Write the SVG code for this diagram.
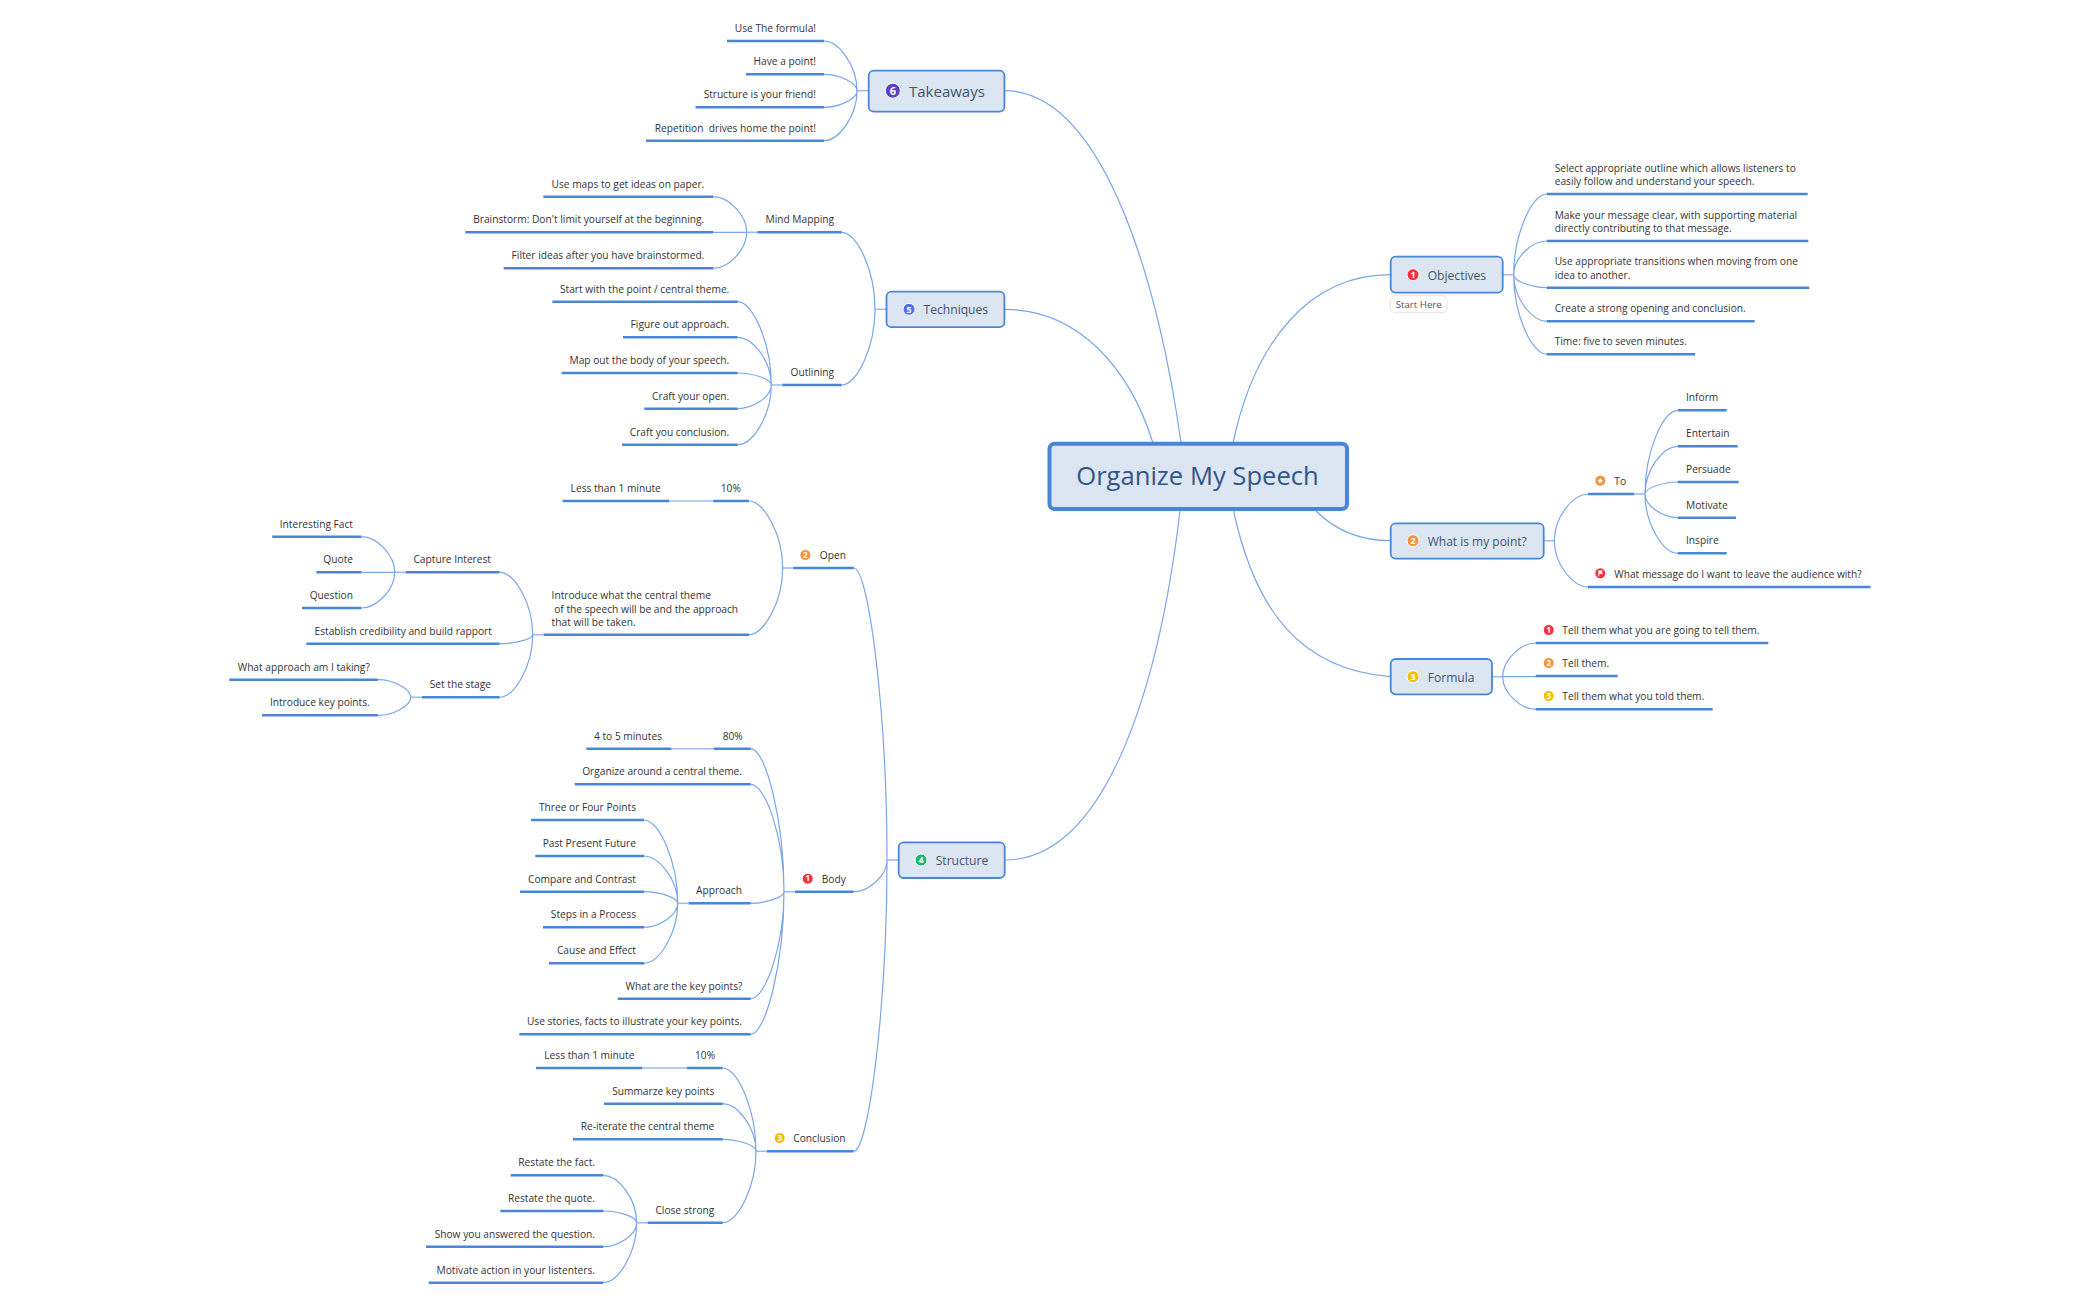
<svg xmlns="http://www.w3.org/2000/svg" width="2100" height="1300" viewBox="0 0 2100 1300">
<style>
text{font-family:"Open Sans","Noto Sans","Liberation Sans",sans-serif;font-size:10.2px;fill:#333;transform:translateY(.7px)}
.e{text-anchor:end}
.c{fill:none;stroke:#7aa6e6;stroke-width:1.2}
.s{fill:none;stroke:#9dbcec;stroke-width:1.6}
.u{fill:none;stroke:#4a86d8;stroke-width:2.5}
.n{fill:#dce6f2;stroke:#4a86d8;stroke-width:1.8}
.t{font-size:12.1px;fill:#44546a}
.i{stroke:#fff;stroke-width:1}
.d{font-size:9px;font-weight:700;fill:#fff;text-anchor:middle}
.ds{font-size:8px}
</style>
<rect width="2100" height="1300" fill="#fff"/>
<g id="connectors">
<path class="c" d="M1004.4 90.7C1105 90.7 1160 290 1181 443"/>
<path class="c" d="M1004.4 309.3C1080 309.3 1130 370 1153 443"/>
<path class="c" d="M1390.7 274.7C1310 274.7 1255 340 1233 443"/>
<path class="c" d="M1316 511C1335 530 1360 540.7 1391 540.7"/>
<path class="c" d="M1390.7 676.7C1300 670 1255 610 1233.6 511"/>
<path class="c" d="M1004.7 860C1108 860 1160 680 1180 511"/>
<path class="s" d="M857 90.7H868.7"/>
<path class="c" d="M857 90.7C857 66 839 41 824 41M857 90.7C857 82.5 839 74.3 824 74.3M857 90.7C857 99 839 107.3 824 107.3M857 90.7C857 115.7 839 140.7 824 140.7"/>
<path class="s" d="M875 309.3H886.5"/>
<path class="c" d="M875 309.3C875 270.8 857 232.3 841.7 232.3M875 309.3C875 347 857 385 841.7 385"/>
<path class="s" d="M746.7 232.3H757.3"/>
<path class="c" d="M746.7 232.3C746.7 214.5 728 196.7 713.3 196.7M746.7 232.3H713.3M746.7 232.3C746.7 250.3 728 268.3 713.3 268.3"/>
<path class="s" d="M771.3 385H782.3"/>
<path class="c" d="M771.3 385C771.3 343.4 752.8 301.7 737.7 301.7M771.3 385C771.3 361 752.8 337.3 737.7 337.3M771.3 385C771.3 379 752.8 373 737.7 373M771.3 385C771.3 397 752.8 408.7 737.7 408.7M771.3 385C771.3 415 752.8 444.7 737.7 444.7"/>
<path class="s" d="M1502.7 274.7H1513.7"/>
<path class="c" d="M1513.7 274.7C1513.7 234.3 1531.9 194 1546.7 194M1513.7 274.7C1513.7 257.8 1531.9 241 1546.7 241M1513.7 274.7C1513.7 281 1531.9 287.7 1546.7 287.7M1513.7 274.7C1513.7 298 1531.9 321.3 1546.7 321.3M1513.7 274.7C1513.7 314.5 1531.9 354.3 1546.7 354.3"/>
<path class="s" d="M1543.7 540.7H1554.3"/>
<path class="c" d="M1554.3 540.7C1554.3 517.3 1572.8 494 1588 494M1554.3 540.7C1554.3 563.8 1572.8 587 1588 587"/>
<path class="s" d="M1634 494H1645"/>
<path class="c" d="M1645 494C1645 452 1663 410.3 1677.7 410.3M1645 494C1645 470 1663 446.3 1677.7 446.3M1645 494C1645 488 1663 482 1677.7 482M1645 494C1645 505.8 1663 517.7 1677.7 517.7M1645 494C1645 523.6 1663 553.3 1677.7 553.3"/>
<path class="s" d="M1492 676.7H1502.7"/>
<path class="c" d="M1502.7 676.7C1502.7 660 1520.8 643 1535.7 643M1502.7 676.7H1535.7M1502.7 676.7C1502.7 693 1520.8 709.3 1535.7 709.3"/>
<path class="s" d="M887 860H898.7"/>
<path class="c" d="M887 860C887 714 868.7 568 853.8 568M887 860C887 875.8 868.7 891.7 853.7 891.7M887 860C887 1005.6 868.7 1151.3 853.7 1151.3"/>
<path class="s" d="M782.7 568H793.2"/>
<path class="c" d="M782.7 568C782.7 534.5 764 501 749 501M782.7 568C782.7 601.3 764 634.7 749 634.7"/>
<path class="s" d="M669 501H713.3"/>
<path class="s" d="M532.7 634.7H543.7"/>
<path class="c" d="M532.7 634.7C532.7 603.5 514.4 572.3 499.5 572.3M532.7 634.7C532.7 639.2 514.4 643.7 499.5 643.7M532.7 634.7C532.7 666 514.4 697.3 499.5 697.3"/>
<path class="s" d="M394.7 572.3H405.6"/>
<path class="c" d="M394.7 572.3C394.7 554.5 376.4 536.7 361.4 536.7M394.7 572.3H361.4M394.7 572.3C394.7 590 376.4 608 361.4 608"/>
<path class="s" d="M410.7 697.3H422"/>
<path class="c" d="M410.7 697.3C410.7 688.5 392.6 679.7 377.8 679.7M410.7 697.3C410.7 706.3 392.6 715.3 377.8 715.3"/>
<path class="s" d="M784 891.7H795"/>
<path class="c" d="M784 891.7C784 820 765.7 748.7 750.7 748.7M784 891.7C784 838 765.7 784.3 750.7 784.3M784 891.7C784 897.5 765.7 903.3 750.7 903.3M784 891.7C784 945 765.7 998.7 750.7 998.7M784 891.7C784 963 765.7 1034.3 750.7 1034.3"/>
<path class="s" d="M671.3 748.7H714"/>
<path class="s" d="M677.7 903.3H688.7"/>
<path class="c" d="M677.7 903.3C677.7 861.7 659.2 820 644 820M677.7 903.3C677.7 879.7 659.2 856 644 856M677.7 903.3C677.7 897.5 659.2 891.7 644 891.7M677.7 903.3C677.7 915.3 659.2 927.3 644 927.3M677.7 903.3C677.7 933.3 659.2 963.3 644 963.3"/>
<path class="s" d="M756 1151.3H767"/>
<path class="c" d="M756 1151.3C756 1109.7 737.7 1068 722.7 1068M756 1151.3C756 1127.5 737.7 1103.7 722.7 1103.7M756 1151.3C756 1145.3 737.7 1139.3 722.7 1139.3M756 1151.3C756 1187 737.7 1222.7 722.7 1222.7"/>
<path class="s" d="M642.3 1068H687"/>
<path class="s" d="M636.7 1222.7H647.7"/>
<path class="c" d="M636.7 1222.7C636.7 1199 618.3 1175.3 603.3 1175.3M636.7 1222.7C636.7 1216.9 618.3 1211 603.3 1211M636.7 1222.7C636.7 1234.7 618.3 1246.7 603.3 1246.7M636.7 1222.7C636.7 1252.7 618.3 1282.7 603.3 1282.7"/>
</g>
<g id="central"><rect x="1049.5" y="443.7" width="297.5" height="65.3" rx="5" fill="#dce6f2" stroke="#4a86d8" stroke-width="4"/><text x="1197.5" y="484" text-anchor="middle" style="font-size:25.6px;fill:#34558b">Organize My Speech</text></g>

<g id="takeaways"><rect class="n" x="868.7" y="70.7" width="135.7" height="41" rx="5"/><circle class="i" cx="892.8" cy="90.7" r="7.5" fill="#5e3fc9"/><text class="d" x="892.8" y="94.2" style="font-size:11px">6</text><text class="t" x="909" y="96" style="font-size:15px">Takeaways</text></g>
<g id="t1"><path class="u" d="M727 41H824"/><text class="e" x="816" y="31.5">Use The formula!</text></g>
<g id="t2"><path class="u" d="M746 74.3H824"/><text class="e" x="816" y="64.8">Have a point!</text></g>
<g id="t3"><path class="u" d="M695.5 107.3H824"/><text class="e" x="816" y="97.8">Structure is your friend!</text></g>
<g id="t4"><path class="u" d="M646 140.7H824"/><text class="e" x="816" y="131.2" xml:space="preserve">Repetition  drives home the point!</text></g>

<g id="techniques"><rect class="n" x="886.5" y="291.7" width="117.9" height="35.5" rx="5"/><circle class="i" cx="909" cy="309.3" r="6" fill="#4f6ef0"/><text class="d" x="909" y="312">5</text><text class="t" x="923.6" y="313.8">Techniques</text></g>
<g id="mind-mapping"><path class="u" d="M757.3 232.3H841.7"/><text class="e" x="834" y="222.8">Mind Mapping</text></g>
<g id="m1"><path class="u" d="M543.3 196.7H713.3"/><text class="e" x="704.3" y="187.2">Use maps to get ideas on paper.</text></g>
<g id="m2"><path class="u" d="M465.3 232.3H713.3"/><text class="e" x="704.3" y="222.8">Brainstorm: Don't limit yourself at the beginning.</text></g>
<g id="m3"><path class="u" d="M503.7 268.3H713.3"/><text class="e" x="704.3" y="258.8">Filter ideas after you have brainstormed.</text></g>
<g id="outlining"><path class="u" d="M782.3 385H841.7"/><text class="e" x="834" y="375.5">Outlining</text></g>
<g id="o1"><path class="u" d="M552.3 301.7H737.7"/><text class="e" x="729.3" y="292.2">Start with the point / central theme.</text></g>
<g id="o2"><path class="u" d="M623 337.3H737.7"/><text class="e" x="729.3" y="327.8">Figure out approach.</text></g>
<g id="o3"><path class="u" d="M561.7 373H737.7"/><text class="e" x="729.3" y="363.5">Map out the body of your speech.</text></g>
<g id="o4"><path class="u" d="M644.3 408.7H737.7"/><text class="e" x="729.3" y="399.2">Craft your open.</text></g>
<g id="o5"><path class="u" d="M622 444.7H737.7"/><text class="e" x="729.3" y="435.2">Craft you conclusion.</text></g>

<g id="objectives"><rect class="n" x="1390.7" y="256.7" width="112" height="36" rx="5"/><circle class="i" cx="1413" cy="274.7" r="6" fill="#f5333f"/><text class="d" x="1413" y="277.5">1</text><text class="t" x="1427.7" y="278.9">Objectives</text></g>
<g id="start-here"><rect x="1390.3" y="295.7" width="56.7" height="17" rx="5" fill="#fff" stroke="#e4e4e4"/><text x="1395.7" y="307.5" style="font-size:9.7px;fill:#555">Start Here</text></g>
<g id="ob1"><path class="u" d="M1546.7 194H1807.7"/><text x="1554.7" y="171">Select appropriate outline which allows listeners to</text><text x="1554.7" y="184.5">easily follow and understand your speech.</text></g>
<g id="ob2"><path class="u" d="M1546.7 241H1808.3"/><text x="1554.7" y="218">Make your message clear, with supporting material</text><text x="1554.7" y="231.5">directly contributing to that message.</text></g>
<g id="ob3"><path class="u" d="M1546.7 287.7H1809.3"/><text x="1554.7" y="264.7">Use appropriate transitions when moving from one</text><text x="1554.7" y="278.2">idea to another.</text></g>
<g id="ob4"><path class="u" d="M1546.7 321.3H1754.7"/><text x="1554.7" y="311.8">Create a strong opening and conclusion.</text></g>
<g id="ob5"><path class="u" d="M1546.7 354.3H1695"/><text x="1554.7" y="344.8">Time: five to seven minutes.</text></g>

<g id="point"><rect class="n" x="1390.7" y="523.3" width="153" height="35.4" rx="5"/><circle class="i" cx="1413" cy="540.7" r="6" fill="#f7923a"/><text class="d" x="1413" y="543.5">2</text><text class="t" x="1427.7" y="545" style="font-size:12px">What is my point?</text></g>
<g id="to"><path class="u" d="M1588 494H1634"/><circle class="i" cx="1600.3" cy="480.7" r="5.5" fill="#f7923a"/><polygon points="1600.3,477.6 1601.2,479.8 1603.3,479.9 1601.7,481.3 1602.2,483.5 1600.3,482.3 1598.4,483.5 1598.9,481.3 1597.3,479.9 1599.4,479.8" fill="#fff"/><text x="1614.3" y="484.5">To</text></g>
<g id="inform"><path class="u" d="M1677.7 410.3H1726.7"/><text x="1686" y="400.8">Inform</text></g>
<g id="entertain"><path class="u" d="M1677.7 446.3H1737.7"/><text x="1686" y="436.8">Entertain</text></g>
<g id="persuade"><path class="u" d="M1677.7 482H1738.7"/><text x="1686" y="472.5">Persuade</text></g>
<g id="motivate"><path class="u" d="M1677.7 517.7H1736"/><text x="1686" y="508.2">Motivate</text></g>
<g id="inspire"><path class="u" d="M1677.7 553.3H1726.7"/><text x="1686" y="543.8">Inspire</text></g>
<g id="message"><path class="u" d="M1588 587H1870.7"/><circle class="i" cx="1600.3" cy="573.3" r="5.5" fill="#f5333f"/><path d="M1598.3 576.3V570.5H1603L1601.8 572.2L1603 574H1599.3V576.3Z" fill="#fff"/><text x="1614.3" y="577.5">What message do I want to leave the audience with?</text></g>

<g id="formula"><rect class="n" x="1390.7" y="659" width="101.3" height="35.3" rx="5"/><circle class="i" cx="1413" cy="676.7" r="6" fill="#f0c000"/><text class="d" x="1413" y="679.5">3</text><text class="t" x="1427.7" y="681">Formula</text></g>
<g id="f1"><path class="u" d="M1535.7 643H1768.3"/><circle class="i" cx="1548.7" cy="630" r="5.5" fill="#f5333f"/><text class="d ds" x="1548.7" y="632.1">1</text><text x="1562.3" y="633.5">Tell them what you are going to tell them.</text></g>
<g id="f2"><path class="u" d="M1535.7 676H1617.7"/><circle class="i" cx="1548.7" cy="663" r="5.5" fill="#f7923a"/><text class="d ds" x="1548.7" y="665.1">2</text><text x="1562.3" y="666.5">Tell them.</text></g>
<g id="f3"><path class="u" d="M1535.7 709.3H1712.7"/><circle class="i" cx="1548.7" cy="696" r="5.5" fill="#f0c000"/><text class="d ds" x="1548.7" y="698.1">3</text><text x="1562.3" y="699.8">Tell them what you told them.</text></g>

<g id="structure"><rect class="n" x="898.7" y="842.3" width="106" height="35.7" rx="5"/><circle class="i" cx="921" cy="860" r="6" fill="#1fb36f"/><text class="d" x="921" y="862.8">4</text><text class="t" x="935.7" y="864.3">Structure</text></g>

<g id="open"><path class="u" d="M793.2 568H853.8"/><circle class="i" cx="805.4" cy="555" r="5.5" fill="#f7923a"/><text class="d ds" x="805.4" y="557.1">2</text><text x="819.8" y="558.5">Open</text></g>
<g id="open-time"><path class="u" d="M562.6 501H669M713.3 501H749"/><text x="570.6" y="491.5">Less than 1 minute</text><text x="720.8" y="491.5">10%</text></g>
<g id="introduce"><path class="u" d="M543.7 634.7H749"/><text x="551.6" y="598.8">Introduce what the central theme</text><text x="551.6" y="612.3" xml:space="preserve"> of the speech will be and the approach</text><text x="551.6" y="625.8">that will be taken.</text></g>
<g id="capture"><path class="u" d="M405.6 572.3H499.5"/><text class="e" x="491" y="562.8">Capture Interest</text></g>
<g id="c1"><path class="u" d="M272.2 536.7H361.4"/><text class="e" x="353" y="527.2">Interesting Fact</text></g>
<g id="c2"><path class="u" d="M316.4 572.3H361.4"/><text class="e" x="353" y="562.8">Quote</text></g>
<g id="c3"><path class="u" d="M302 608H361.4"/><text class="e" x="353" y="598.5">Question</text></g>
<g id="establish"><path class="u" d="M306.3 643.7H499.5"/><text class="e" x="491.9" y="634.2">Establish credibility and build rapport</text></g>
<g id="stage"><path class="u" d="M422 697.3H499.5"/><text class="e" x="491" y="687.8">Set the stage</text></g>
<g id="s1"><path class="u" d="M229.3 679.7H377.8"/><text class="e" x="369.8" y="670.2">What approach am I taking?</text></g>
<g id="s2"><path class="u" d="M262 715.3H377.8"/><text class="e" x="369.8" y="705.8">Introduce key points.</text></g>

<g id="body"><path class="u" d="M795 891.7H853.7"/><circle class="i" cx="807.7" cy="878.7" r="5.5" fill="#f5333f"/><text class="d ds" x="807.7" y="880.8">1</text><text x="821.7" y="882.2">Body</text></g>
<g id="body-time"><path class="u" d="M586.3 748.7H671.3M714 748.7H750.7"/><text x="594" y="739.2">4 to 5 minutes</text><text x="722.7" y="739.2">80%</text></g>
<g id="b1"><path class="u" d="M574.7 784.3H750.7"/><text class="e" x="742" y="774.8">Organize around a central theme.</text></g>
<g id="approach"><path class="u" d="M688.7 903.3H750.7"/><text class="e" x="742" y="893.8">Approach</text></g>
<g id="a1"><path class="u" d="M531 820H644"/><text class="e" x="636" y="810.5">Three or Four Points</text></g>
<g id="a2"><path class="u" d="M535.3 856H644"/><text class="e" x="636" y="846.5">Past Present Future</text></g>
<g id="a3"><path class="u" d="M520 891.7H644"/><text class="e" x="636" y="882.2">Compare and Contrast</text></g>
<g id="a4"><path class="u" d="M543 927.3H644"/><text class="e" x="636" y="917.8">Steps in a Process</text></g>
<g id="a5"><path class="u" d="M549 963.3H644"/><text class="e" x="636" y="953.8">Cause and Effect</text></g>
<g id="b2"><path class="u" d="M617.7 998.7H750.7"/><text class="e" x="742.5" y="989.2">What are the key points?</text></g>
<g id="b3"><path class="u" d="M519.3 1034.3H750.7"/><text class="e" x="742" y="1024.8">Use stories, facts to illustrate your key points.</text></g>

<g id="conclusion"><path class="u" d="M767 1151.3H853.7"/><circle class="i" cx="779.7" cy="1138" r="5.5" fill="#f0c000"/><text class="d ds" x="779.7" y="1140.1">3</text><text x="793.3" y="1141.8">Conclusion</text></g>
<g id="con-time"><path class="u" d="M536 1068H642.3M687 1068H722.7"/><text x="544.3" y="1058.5">Less than 1 minute</text><text x="695" y="1058.5">10%</text></g>
<g id="co1"><path class="u" d="M604 1103.7H722.7"/><text class="e" x="714.3" y="1094.2">Summarze key points</text></g>
<g id="co2"><path class="u" d="M573 1139.3H722.7"/><text class="e" x="714.3" y="1129.8">Re-iterate the central theme</text></g>
<g id="close"><path class="u" d="M647.7 1222.7H722.7"/><text class="e" x="714.3" y="1213.2">Close strong</text></g>
<g id="cl1"><path class="u" d="M510.7 1175.3H603.3"/><text class="e" x="595" y="1165.8">Restate the fact.</text></g>
<g id="cl2"><path class="u" d="M500.3 1211H603.3"/><text class="e" x="595" y="1201.5">Restate the quote.</text></g>
<g id="cl3"><path class="u" d="M426 1246.7H603.3"/><text class="e" x="595" y="1237.2">Show you answered the question.</text></g>
<g id="cl4"><path class="u" d="M428.7 1282.7H603.3"/><text class="e" x="595" y="1273.2">Motivate action in your listenters.</text></g>
</svg>
